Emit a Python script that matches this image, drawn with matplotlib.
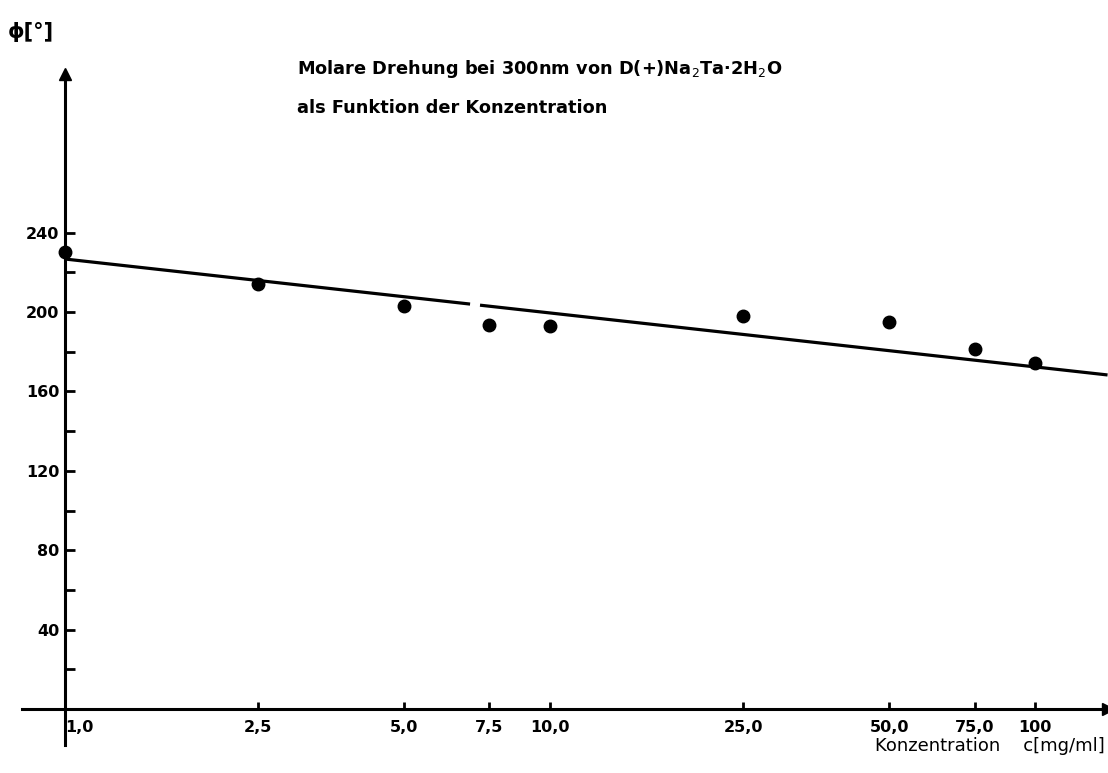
import numpy as np
import matplotlib
matplotlib.use("Agg")
import matplotlib.pyplot as plt

# Messwerte: Konzentration c [mg/ml] und molare Drehung phi [Grad]
konz = [1.0, 2.5, 5.0, 7.5, 10.0, 25.0, 50.0, 75.0, 100.0]
phi = [230, 214, 203, 193.5, 193, 198, 195, 181.5, 174.5]

# Ausgleichsgerade (von Hand gezogen), Endpunkte in c und phi
gerade_c = [1.0, 141.0]
gerade_phi = [226.7, 168.3]
luecke_c = [6.84, 7.17]   # Unterbrechung der Geraden

x_ticks = [1.0, 2.5, 5.0, 7.5, 10.0, 25.0, 50.0, 75.0, 100.0]
x_labels = ["1,0", "2,5", "5,0", "7,5", "10,0", "25,0", "50,0", "75,0", "100"]
y_ticks = [40, 80, 120, 160, 200, 240]
y_minor = [20, 60, 100, 140, 180, 220]

W, H = 1108, 773
fig = plt.figure(figsize=(W / 100, H / 100), dpi=100)
# Achsenbereich in Pixeln: links 22, rechts 1108, oben 74, unten 745
ax = fig.add_axes([22 / W, (H - 745) / H, (1108 - 22) / W, (745 - 74) / H])

ax.set_xscale("log")
ax.set_xlim(0.8153, 141.3)
ax.set_ylim(-18.1, 319.9)

# Gerade als zwei Stuecke (gerade in log c)
lc = np.log10(gerade_c)
def auf_gerade(c):
    t = (np.log10(c) - lc[0]) / (lc[1] - lc[0])
    return gerade_phi[0] + t * (gerade_phi[1] - gerade_phi[0])

ax.plot([gerade_c[0], luecke_c[0]], [gerade_phi[0], auf_gerade(luecke_c[0])],
        color="black", lw=2.3, solid_capstyle="butt", clip_on=False)
ax.plot([luecke_c[1], gerade_c[1]], [auf_gerade(luecke_c[1]), gerade_phi[1]],
        color="black", lw=2.3, solid_capstyle="butt", clip_on=False)

ax.plot(konz, phi, "o", color="black", ms=9, clip_on=False, zorder=5)

# Achsen durch den Ursprung (c = 1,0 ; phi = 0)
for s in ["top", "right"]:
    ax.spines[s].set_visible(False)
ax.spines["left"].set_position(("data", 1.0))
ax.spines["bottom"].set_position(("data", 0))
ax.spines["left"].set_linewidth(2.2)
ax.spines["bottom"].set_linewidth(2.2)

# Pfeilspitzen
ax.plot(1.0, 1.0, marker="^", ms=9, color="black",
        transform=ax.get_xaxis_transform(), clip_on=False)
ax.plot(1.0, 0, marker=">", ms=9, color="black",
        transform=ax.get_yaxis_transform(), clip_on=False)

ax.set_xticks(x_ticks)
ax.set_xticklabels(x_labels)
ax.xaxis.set_minor_locator(matplotlib.ticker.NullLocator())
ax.set_yticks(y_ticks)
ax.set_yticks(y_minor, minor=True)

ax.tick_params(axis="x", direction="in", length=5, width=2, pad=8,
               labelsize=11.5)
ax.tick_params(axis="y", which="both", direction="in", length=7, width=2,
               pad=4, labelsize=11.5)
for lab in ax.get_xticklabels() + ax.get_yticklabels():
    lab.set_fontweight("bold")
ax.get_xticklabels()[0].set_horizontalalignment("left")

fig.text(8 / W, 1 - 38 / H, "ϕ[°]", fontsize=15, fontweight="bold",
         va="baseline", ha="left")
fig.text(297 / W, 1 - 74 / H, "Molare Drehung bei 300nm von D(+)Na$_2$Ta·2H$_2$O",
         fontsize=12.8, fontweight="bold", va="baseline", ha="left")
fig.text(297 / W, 1 - 113 / H, "als Funktion der Konzentration",
         fontsize=12.8, fontweight="bold", va="baseline", ha="left")
fig.text(1105 / W, 1 - 751 / H, "Konzentration    c[mg/ml]",
         fontsize=13, va="baseline", ha="right")

fig.savefig("out.png", dpi=100)
